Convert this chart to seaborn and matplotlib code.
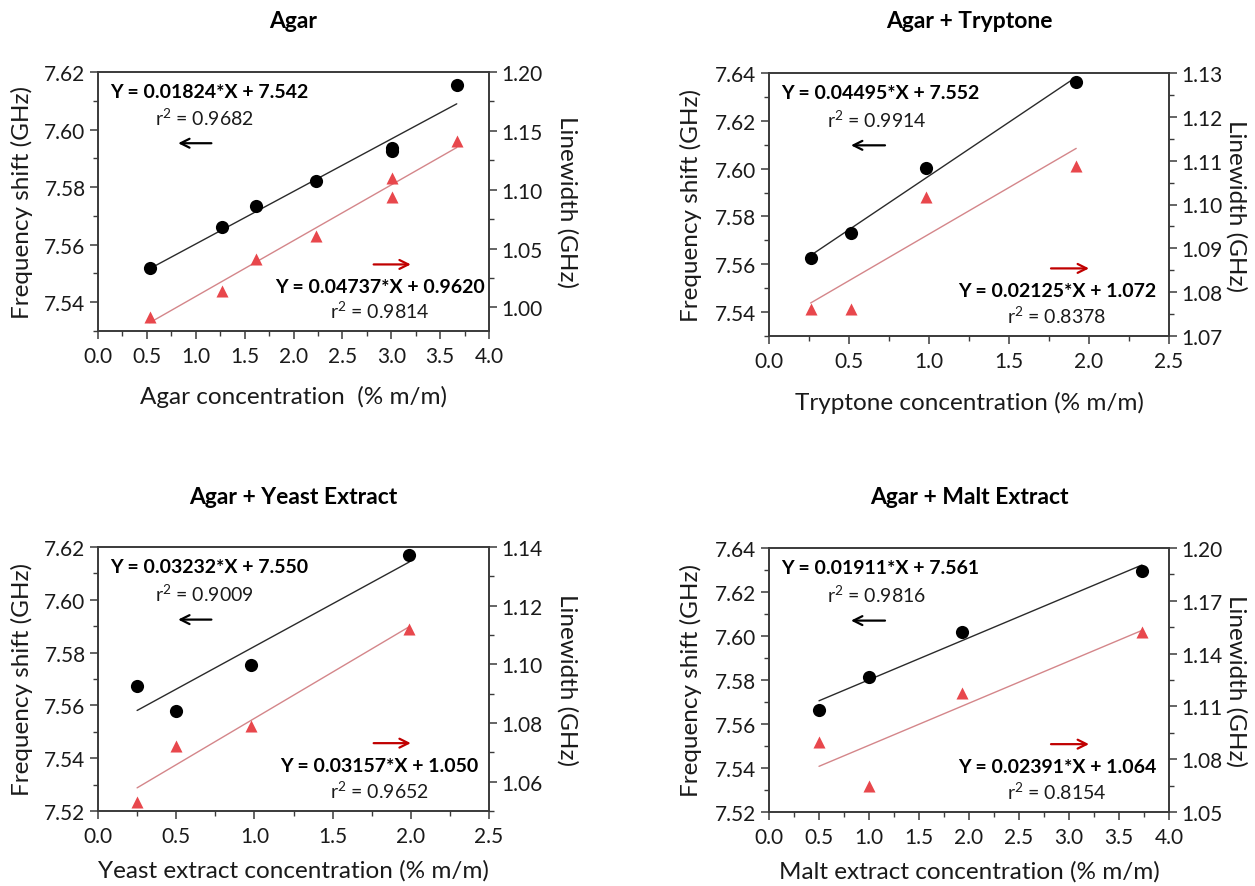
import numpy as np
import pandas as pd
import matplotlib
matplotlib.use("Agg")
import matplotlib.pyplot as plt
from matplotlib.ticker import MultipleLocator
import seaborn as sns

# ---------------- data ----------------
titles = ["Agar", "Agar + Tryptone", "Agar + Yeast Extract", "Agar + Malt Extract"]
xlabels = ["Agar concentration  (% m/m)", "Tryptone concentration (% m/m)",
           "Yeast extract concentration (% m/m)", "Malt extract concentration (% m/m)"]

agar_x = [0.53, 1.27, 1.62, 2.23, 3.01, 3.01, 3.67]
agar_freq = [7.5518, 7.5663, 7.5736, 7.5821, 7.5936, 7.5924, 7.6156]
agar_lw = [0.992, 1.0137, 1.041, 1.061, 1.110, 1.0936, 1.141]

tryp_x = [0.26, 0.51, 0.98, 1.92]
tryp_freq = [7.5625, 7.5732, 7.6004, 7.6362]
tryp_lw = [1.0762, 1.0762, 1.1016, 1.1087]

yeast_x = [0.25, 0.50, 0.98, 1.99]
yeast_freq = [7.5675, 7.5577, 7.5754, 7.6168]
yeast_lw = [1.0531, 1.072, 1.079, 1.1119]

malt_x = [0.50, 1.00, 1.93, 3.73]
malt_freq = [7.5664, 7.5814, 7.6016, 7.6297]
malt_lw = [1.0898, 1.0648, 1.1175, 1.152]

# fitted lines (slope, intercept) read from the equations
freq_slope = [0.01824, 0.04495, 0.03232, 0.01911]
freq_icpt = [7.542, 7.552, 7.550, 7.561]
freq_r2 = ["0.9682", "0.9914", "0.9009", "0.9816"]
lw_slope = [0.04737, 0.02125, 0.03157, 0.02391]
lw_icpt = ["0.9620", "1.072", "1.050", "1.064"]
lw_r2 = ["0.9814", "0.8378", "0.9652", "0.8154"]

freq_eq = ["Y = 0.01824*X + 7.542", "Y = 0.04495*X + 7.552",
           "Y = 0.03232*X + 7.550", "Y = 0.01911*X + 7.561"]
lw_eq = ["Y = 0.04737*X + 0.9620", "Y = 0.02125*X + 1.072",
         "Y = 0.03157*X + 1.050", "Y = 0.02391*X + 1.064"]

xs_all = [agar_x, tryp_x, yeast_x, malt_x]
freq_all = [agar_freq, tryp_freq, yeast_freq, malt_freq]
lw_all = [agar_lw, tryp_lw, yeast_lw, malt_lw]

xlims = [(0, 4), (0, 2.5), (0, 2.5), (0, 4)]
ylims_l = [(7.53, 7.62), (7.53, 7.64), (7.52, 7.62), (7.52, 7.64)]
ylims_r = [(0.98, 1.20), (1.07, 1.13), (1.05, 1.14), (1.05, 1.20)]
ymaj_l = [0.02, 0.02, 0.02, 0.02]
ymaj_r = [0.05, 0.01, 0.02, 0.03]

# ---------------- style ----------------
sns.set_theme(style="ticks")
plt.rcParams["font.family"] = ["Lato", "DejaVu Sans"]
plt.rcParams["mathtext.fontset"] = "custom"
plt.rcParams["mathtext.rm"] = "Lato"
plt.rcParams["mathtext.it"] = "Lato:italic"
plt.rcParams["mathtext.bf"] = "Lato:bold"

spine_c = "#3a3a3a"
red_pts = "#e8474c"
red_line = "#d4868a"
red_arrow = "#c00000"

W, H = 1255, 887
fig = plt.figure(figsize=(W / 100, H / 100), dpi=100)

# pixel boxes (left, top, right, bottom)
boxes = [(98, 73, 489, 332), (769, 74, 1169, 337),
         (98, 548, 489, 812), (769, 549, 1169, 813)]
title_pos = [(293, 22), (969, 22), (293, 498), (969, 498)]
xlab_y = [-0.25, -0.25, -0.222, -0.222]
rlab_x = [1.2, 1.168, 1.2, 1.168]

FS_TICK = 15
FS_LAB = 17.5
FS_ANN = 14

for i in range(4):
    l, t, r, b = boxes[i]
    ax = fig.add_axes([l / W, 1 - b / H, (r - l) / W, (b - t) / H])
    ax2 = ax.twinx()

    x = np.array(xs_all[i])
    fx = np.array([x.min(), x.max()])

    df = pd.DataFrame({"x": x, "freq": freq_all[i], "lw": lw_all[i]})
    sns.scatterplot(data=df, x="x", y="freq", ax=ax, color="black", s=90,
                    marker="o", edgecolor="black", linewidth=0, zorder=3)
    sns.lineplot(x=fx, y=freq_icpt[i] + freq_slope[i] * fx, ax=ax,
                 color="#2a2a2a", lw=1.0, zorder=2)

    sns.scatterplot(data=df, x="x", y="lw", ax=ax2, color=red_pts, s=75,
                    marker="^", edgecolor=red_pts, linewidth=0, zorder=3)
    sns.lineplot(x=fx, y=float(lw_icpt[i]) + lw_slope[i] * fx, ax=ax2,
                 color=red_line, lw=1.0, zorder=2)

    ax.set_xlim(*xlims[i])
    ax.set_ylim(*ylims_l[i])
    ax2.set_ylim(*ylims_r[i])

    ax.xaxis.set_major_locator(MultipleLocator(0.5))
    ax.xaxis.set_minor_locator(MultipleLocator(0.25))
    ax.yaxis.set_major_locator(MultipleLocator(ymaj_l[i]))
    ax.yaxis.set_minor_locator(MultipleLocator(ymaj_l[i] / 2))
    ax2.yaxis.set_major_locator(MultipleLocator(ymaj_r[i]))
    ax2.yaxis.set_minor_locator(MultipleLocator(ymaj_r[i] / 2))

    ax.xaxis.set_major_formatter(plt.FuncFormatter(lambda v, p: f"{v:.1f}"))
    ax.yaxis.set_major_formatter(plt.FuncFormatter(lambda v, p: f"{v:.2f}"))
    ax2.yaxis.set_major_formatter(plt.FuncFormatter(lambda v, p: f"{v:.2f}"))

    for a in (ax, ax2):
        for s in a.spines.values():
            s.set_color(spine_c)
            s.set_linewidth(1.2)
        a.tick_params(which="major", length=6, width=1.1, color=spine_c,
                      labelsize=FS_TICK, labelcolor="#1a1a1a")
        a.tick_params(which="minor", length=3.5, width=1.0, color=spine_c)
    ax.tick_params(axis="x", which="both", direction="out", top=False)
    ax.tick_params(axis="x", which="major", pad=5)
    ax.tick_params(axis="y", which="both", direction="out", right=False, pad=3)
    ax2.tick_params(axis="y", which="both", direction="out", pad=3)

    ax.set_xlabel(xlabels[i], fontsize=FS_LAB, color="#1a1a1a")
    ax.set_ylabel("Frequency shift (GHz)", fontsize=FS_LAB, color="#1a1a1a")
    ax2.set_ylabel("Linewidth (GHz)", fontsize=FS_LAB, color="#1a1a1a", rotation=270)
    ax.xaxis.set_label_coords(0.5, xlab_y[i])
    ax.xaxis.label.set_va("center")
    ax.yaxis.set_label_coords(-0.195, 0.5)
    ax.yaxis.label.set_va("center")
    ax2.yaxis.set_label_coords(rlab_x[i], 0.5)
    ax2.yaxis.label.set_va("center")

    # annotations
    ax.text(0.03, 0.925, freq_eq[i], transform=ax.transAxes, fontsize=FS_ANN,
            fontweight="bold", ha="left", va="center", color="black")
    ax.text(0.145, 0.825, "r$^2$ = " + freq_r2[i], transform=ax.transAxes,
            fontsize=FS_ANN, ha="left", va="center", color="#1a1a1a")
    ax.annotate("", xy=(0.205, 0.725), xytext=(0.29, 0.725),
                xycoords="axes fraction",
                arrowprops=dict(arrowstyle="->", color="black", lw=1.6,
                                mutation_scale=16, shrinkA=0, shrinkB=0))
    ax2.annotate("", xy=(0.80, 0.257), xytext=(0.705, 0.257),
                 xycoords="axes fraction",
                 arrowprops=dict(arrowstyle="->", color=red_arrow, lw=1.6,
                                 mutation_scale=16, shrinkA=0, shrinkB=0))
    ax2.text(0.72, 0.172, lw_eq[i], transform=ax.transAxes, fontsize=FS_ANN,
             fontweight="bold", ha="center", va="center", color="black")
    ax2.text(0.72, 0.08, "r$^2$ = " + lw_r2[i], transform=ax.transAxes,
             fontsize=FS_ANN, ha="center", va="center", color="#1a1a1a")

    tx, ty = title_pos[i]
    fig.text(tx / W, 1 - ty / H, titles[i], fontsize=16.5, fontweight="bold",
             ha="center", va="center", color="black")

fig.savefig("out.png", dpi=100)
